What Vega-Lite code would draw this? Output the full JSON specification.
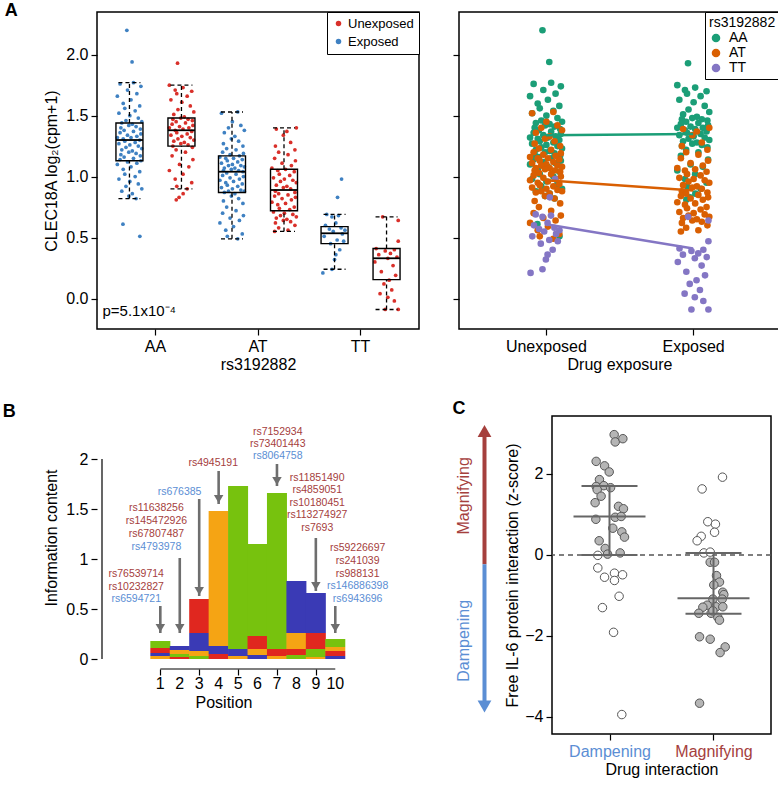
{
"$schema": "https://vega.github.io/schema/vega-lite/v6.json",
"padding": {"left": 2, "top": 0, "right": 0, "bottom": 0},
"config": {
 "font": "Liberation Sans",
 "view": {"stroke": "black", "strokeWidth": 1.5},
 "axis": {"grid": false, "domain": false, "labelOverlap": false, "labelFontSize": 16, "titleFontSize": 16, "titleFontWeight": "normal", "labelColor": "#000", "titleColor": "#000", "tickColor": "#000", "tickSize": 6, "tickWidth": 1.2, "labelPadding": 3, "titlePadding": 4},
 "title": {"fontSize": 18, "fontWeight": "bold", "anchor": "start", "frame": "bounds", "offset": 0, "color": "#000"}
},
"datasets": {
 "pts": [
  {"g":"AA","c":"Exposed","v":2.20,"j":-0.2},{"g":"AA","c":"Exposed","v":1.94,"j":0.2},{"g":"AA","c":"Exposed","v":0.61,"j":-0.5},{"g":"AA","c":"Exposed","v":0.51,"j":0.8},
  {"g":"AA","c":"Exposed","v":1.77,"j":0.31},{"g":"AA","c":"Exposed","v":1.76,"j":-0.72},{"g":"AA","c":"Exposed","v":1.74,"j":0.88},{"g":"AA","c":"Exposed","v":1.71,"j":-0.15},{"g":"AA","c":"Exposed","v":1.68,"j":0.57},{"g":"AA","c":"Exposed","v":1.66,"j":-0.93},{"g":"AA","c":"Exposed","v":1.63,"j":0.12},{"g":"AA","c":"Exposed","v":1.60,"j":-0.48},{"g":"AA","c":"Exposed","v":1.58,"j":0.79},{"g":"AA","c":"Exposed","v":1.56,"j":-0.36},{"g":"AA","c":"Exposed","v":1.54,"j":0.44},{"g":"AA","c":"Exposed","v":1.52,"j":-0.81},{"g":"AA","c":"Exposed","v":1.50,"j":0.03},{"g":"AA","c":"Exposed","v":1.48,"j":0.68},{"g":"AA","c":"Exposed","v":1.46,"j":-0.27},{"g":"AA","c":"Exposed","v":1.45,"j":0.95},
  {"g":"AA","c":"Exposed","v":1.44,"j":-0.59},{"g":"AA","c":"Exposed","v":1.43,"j":0.22},{"g":"AA","c":"Exposed","v":1.42,"j":-0.05},{"g":"AA","c":"Exposed","v":1.41,"j":0.51},{"g":"AA","c":"Exposed","v":1.40,"j":-0.66},{"g":"AA","c":"Exposed","v":1.39,"j":0.84},{"g":"AA","c":"Exposed","v":1.38,"j":-0.41},{"g":"AA","c":"Exposed","v":1.37,"j":0.31},{"g":"AA","c":"Exposed","v":1.36,"j":-0.72},{"g":"AA","c":"Exposed","v":1.35,"j":0.88},{"g":"AA","c":"Exposed","v":1.34,"j":-0.15},{"g":"AA","c":"Exposed","v":1.33,"j":0.57},{"g":"AA","c":"Exposed","v":1.32,"j":-0.93},{"g":"AA","c":"Exposed","v":1.32,"j":0.12},{"g":"AA","c":"Exposed","v":1.31,"j":-0.48},{"g":"AA","c":"Exposed","v":1.30,"j":0.79},
  {"g":"AA","c":"Exposed","v":1.29,"j":-0.36},{"g":"AA","c":"Exposed","v":1.28,"j":0.44},{"g":"AA","c":"Exposed","v":1.27,"j":-0.81},{"g":"AA","c":"Exposed","v":1.26,"j":0.03},{"g":"AA","c":"Exposed","v":1.25,"j":0.68},{"g":"AA","c":"Exposed","v":1.24,"j":-0.27},{"g":"AA","c":"Exposed","v":1.23,"j":0.95},{"g":"AA","c":"Exposed","v":1.22,"j":-0.59},{"g":"AA","c":"Exposed","v":1.21,"j":0.22},{"g":"AA","c":"Exposed","v":1.20,"j":-0.05},{"g":"AA","c":"Exposed","v":1.19,"j":0.51},{"g":"AA","c":"Exposed","v":1.18,"j":-0.66},{"g":"AA","c":"Exposed","v":1.17,"j":0.84},{"g":"AA","c":"Exposed","v":1.16,"j":-0.41},{"g":"AA","c":"Exposed","v":1.15,"j":0.31},{"g":"AA","c":"Exposed","v":1.14,"j":-0.72},{"g":"AA","c":"Exposed","v":1.13,"j":0.88},
  {"g":"AA","c":"Exposed","v":1.12,"j":-0.15},{"g":"AA","c":"Exposed","v":1.11,"j":0.57},{"g":"AA","c":"Exposed","v":1.10,"j":-0.93},{"g":"AA","c":"Exposed","v":1.08,"j":0.12},{"g":"AA","c":"Exposed","v":1.06,"j":-0.48},{"g":"AA","c":"Exposed","v":1.04,"j":0.79},{"g":"AA","c":"Exposed","v":1.02,"j":-0.36},{"g":"AA","c":"Exposed","v":1.00,"j":0.44},{"g":"AA","c":"Exposed","v":0.98,"j":-0.81},{"g":"AA","c":"Exposed","v":0.96,"j":0.03},{"g":"AA","c":"Exposed","v":0.94,"j":0.68},{"g":"AA","c":"Exposed","v":0.92,"j":-0.27},{"g":"AA","c":"Exposed","v":0.90,"j":0.95},{"g":"AA","c":"Exposed","v":0.88,"j":-0.59},{"g":"AA","c":"Exposed","v":0.86,"j":0.22},{"g":"AA","c":"Exposed","v":0.84,"j":-0.05},{"g":"AA","c":"Exposed","v":0.82,"j":0.51},
  {"g":"AA","c":"Unexposed","v":1.93,"j":-0.3},{"g":"AA","c":"Unexposed","v":0.86,"j":0.13},{"g":"AA","c":"Unexposed","v":0.83,"j":-0.18},{"g":"AA","c":"Unexposed","v":0.81,"j":-0.4},
  {"g":"AA","c":"Unexposed","v":1.75,"j":-0.93},{"g":"AA","c":"Unexposed","v":1.73,"j":0.12},{"g":"AA","c":"Unexposed","v":1.71,"j":-0.48},{"g":"AA","c":"Unexposed","v":1.70,"j":0.79},{"g":"AA","c":"Unexposed","v":1.68,"j":-0.36},{"g":"AA","c":"Unexposed","v":1.66,"j":0.44},{"g":"AA","c":"Unexposed","v":1.63,"j":-0.81},{"g":"AA","c":"Unexposed","v":1.61,"j":0.03},{"g":"AA","c":"Unexposed","v":1.58,"j":0.68},{"g":"AA","c":"Unexposed","v":1.55,"j":-0.27},{"g":"AA","c":"Unexposed","v":1.53,"j":0.95},{"g":"AA","c":"Unexposed","v":1.51,"j":-0.59},{"g":"AA","c":"Unexposed","v":1.49,"j":0.22},
  {"g":"AA","c":"Unexposed","v":1.48,"j":-0.05},{"g":"AA","c":"Unexposed","v":1.47,"j":0.51},{"g":"AA","c":"Unexposed","v":1.47,"j":-0.66},{"g":"AA","c":"Unexposed","v":1.46,"j":0.84},{"g":"AA","c":"Unexposed","v":1.45,"j":-0.41},{"g":"AA","c":"Unexposed","v":1.44,"j":0.31},{"g":"AA","c":"Unexposed","v":1.43,"j":-0.72},{"g":"AA","c":"Unexposed","v":1.42,"j":0.88},{"g":"AA","c":"Unexposed","v":1.41,"j":-0.15},{"g":"AA","c":"Unexposed","v":1.40,"j":0.57},{"g":"AA","c":"Unexposed","v":1.40,"j":-0.93},{"g":"AA","c":"Unexposed","v":1.39,"j":0.12},{"g":"AA","c":"Unexposed","v":1.38,"j":-0.48},
  {"g":"AA","c":"Unexposed","v":1.37,"j":0.79},{"g":"AA","c":"Unexposed","v":1.36,"j":-0.36},{"g":"AA","c":"Unexposed","v":1.35,"j":0.44},{"g":"AA","c":"Unexposed","v":1.34,"j":-0.81},{"g":"AA","c":"Unexposed","v":1.33,"j":0.03},{"g":"AA","c":"Unexposed","v":1.32,"j":0.68},{"g":"AA","c":"Unexposed","v":1.31,"j":-0.27},{"g":"AA","c":"Unexposed","v":1.30,"j":0.95},{"g":"AA","c":"Unexposed","v":1.29,"j":-0.59},{"g":"AA","c":"Unexposed","v":1.28,"j":0.22},{"g":"AA","c":"Unexposed","v":1.27,"j":-0.05},{"g":"AA","c":"Unexposed","v":1.26,"j":0.51},{"g":"AA","c":"Unexposed","v":1.25,"j":-0.66},
  {"g":"AA","c":"Unexposed","v":1.24,"j":0.84},{"g":"AA","c":"Unexposed","v":1.22,"j":-0.41},{"g":"AA","c":"Unexposed","v":1.20,"j":0.31},{"g":"AA","c":"Unexposed","v":1.17,"j":-0.72},{"g":"AA","c":"Unexposed","v":1.14,"j":0.88},{"g":"AA","c":"Unexposed","v":1.10,"j":-0.15},{"g":"AA","c":"Unexposed","v":1.08,"j":0.57},{"g":"AA","c":"Unexposed","v":1.05,"j":-0.93},{"g":"AA","c":"Unexposed","v":1.02,"j":0.12},{"g":"AA","c":"Unexposed","v":0.98,"j":-0.48},{"g":"AA","c":"Unexposed","v":0.95,"j":0.79},{"g":"AA","c":"Unexposed","v":0.92,"j":-0.36},{"g":"AA","c":"Unexposed","v":0.90,"j":0.44},
  {"g":"AT","c":"Exposed","v":1.53,"j":0.44},{"g":"AT","c":"Exposed","v":1.52,"j":-0.81},{"g":"AT","c":"Exposed","v":1.45,"j":0.03},{"g":"AT","c":"Exposed","v":1.42,"j":0.68},{"g":"AT","c":"Exposed","v":1.40,"j":-0.27},{"g":"AT","c":"Exposed","v":1.38,"j":0.95},{"g":"AT","c":"Exposed","v":1.36,"j":-0.59},{"g":"AT","c":"Exposed","v":1.33,"j":0.22},{"g":"AT","c":"Exposed","v":1.31,"j":-0.05},{"g":"AT","c":"Exposed","v":1.29,"j":0.51},{"g":"AT","c":"Exposed","v":1.27,"j":-0.66},{"g":"AT","c":"Exposed","v":1.25,"j":0.84},{"g":"AT","c":"Exposed","v":1.23,"j":-0.41},{"g":"AT","c":"Exposed","v":1.22,"j":0.31},{"g":"AT","c":"Exposed","v":1.20,"j":-0.72},{"g":"AT","c":"Exposed","v":1.19,"j":0.88},{"g":"AT","c":"Exposed","v":1.18,"j":-0.15},
  {"g":"AT","c":"Exposed","v":1.17,"j":0.57},{"g":"AT","c":"Exposed","v":1.16,"j":-0.93},{"g":"AT","c":"Exposed","v":1.15,"j":0.12},{"g":"AT","c":"Exposed","v":1.15,"j":-0.48},{"g":"AT","c":"Exposed","v":1.14,"j":0.79},{"g":"AT","c":"Exposed","v":1.13,"j":-0.36},{"g":"AT","c":"Exposed","v":1.12,"j":0.44},{"g":"AT","c":"Exposed","v":1.11,"j":-0.81},{"g":"AT","c":"Exposed","v":1.10,"j":0.03},{"g":"AT","c":"Exposed","v":1.09,"j":0.68},{"g":"AT","c":"Exposed","v":1.09,"j":-0.27},{"g":"AT","c":"Exposed","v":1.08,"j":0.95},{"g":"AT","c":"Exposed","v":1.07,"j":-0.59},{"g":"AT","c":"Exposed","v":1.07,"j":0.22},{"g":"AT","c":"Exposed","v":1.06,"j":-0.05},{"g":"AT","c":"Exposed","v":1.05,"j":0.51},{"g":"AT","c":"Exposed","v":1.05,"j":-0.66},{"g":"AT","c":"Exposed","v":1.04,"j":0.84},
  {"g":"AT","c":"Exposed","v":1.03,"j":-0.41},{"g":"AT","c":"Exposed","v":1.02,"j":0.31},{"g":"AT","c":"Exposed","v":1.01,"j":-0.72},{"g":"AT","c":"Exposed","v":1.00,"j":0.88},{"g":"AT","c":"Exposed","v":0.99,"j":-0.15},{"g":"AT","c":"Exposed","v":0.98,"j":0.57},{"g":"AT","c":"Exposed","v":0.97,"j":-0.93},{"g":"AT","c":"Exposed","v":0.96,"j":0.12},{"g":"AT","c":"Exposed","v":0.95,"j":-0.48},{"g":"AT","c":"Exposed","v":0.94,"j":0.79},{"g":"AT","c":"Exposed","v":0.93,"j":-0.36},{"g":"AT","c":"Exposed","v":0.92,"j":0.44},{"g":"AT","c":"Exposed","v":0.91,"j":-0.81},{"g":"AT","c":"Exposed","v":0.90,"j":0.03},{"g":"AT","c":"Exposed","v":0.89,"j":0.68},{"g":"AT","c":"Exposed","v":0.88,"j":-0.27},{"g":"AT","c":"Exposed","v":0.88,"j":0.95},{"g":"AT","c":"Exposed","v":0.87,"j":-0.59},
  {"g":"AT","c":"Exposed","v":0.86,"j":0.22},{"g":"AT","c":"Exposed","v":0.84,"j":-0.05},{"g":"AT","c":"Exposed","v":0.82,"j":0.51},{"g":"AT","c":"Exposed","v":0.80,"j":-0.66},{"g":"AT","c":"Exposed","v":0.78,"j":0.84},{"g":"AT","c":"Exposed","v":0.75,"j":-0.41},{"g":"AT","c":"Exposed","v":0.72,"j":0.31},{"g":"AT","c":"Exposed","v":0.70,"j":-0.72},{"g":"AT","c":"Exposed","v":0.68,"j":0.88},{"g":"AT","c":"Exposed","v":0.66,"j":-0.15},{"g":"AT","c":"Exposed","v":0.64,"j":0.57},{"g":"AT","c":"Exposed","v":0.62,"j":-0.93},{"g":"AT","c":"Exposed","v":0.59,"j":0.12},{"g":"AT","c":"Exposed","v":0.56,"j":-0.48},{"g":"AT","c":"Exposed","v":0.53,"j":0.79},{"g":"AT","c":"Exposed","v":0.51,"j":-0.36},{"g":"AT","c":"Exposed","v":0.49,"j":0.44},
  {"g":"AT","c":"Unexposed","v":1.40,"j":0.95},{"g":"AT","c":"Unexposed","v":1.39,"j":-0.59},{"g":"AT","c":"Unexposed","v":1.37,"j":0.22},{"g":"AT","c":"Unexposed","v":1.34,"j":-0.05},{"g":"AT","c":"Unexposed","v":1.28,"j":0.51},{"g":"AT","c":"Unexposed","v":1.25,"j":-0.66},{"g":"AT","c":"Unexposed","v":1.22,"j":0.84},{"g":"AT","c":"Unexposed","v":1.20,"j":-0.41},{"g":"AT","c":"Unexposed","v":1.18,"j":0.31},{"g":"AT","c":"Unexposed","v":1.15,"j":-0.72},{"g":"AT","c":"Unexposed","v":1.13,"j":0.88},{"g":"AT","c":"Unexposed","v":1.11,"j":-0.15},{"g":"AT","c":"Unexposed","v":1.09,"j":0.57},{"g":"AT","c":"Unexposed","v":1.07,"j":-0.93},
  {"g":"AT","c":"Unexposed","v":1.06,"j":0.12},{"g":"AT","c":"Unexposed","v":1.05,"j":-0.48},{"g":"AT","c":"Unexposed","v":1.04,"j":0.79},{"g":"AT","c":"Unexposed","v":1.02,"j":-0.36},{"g":"AT","c":"Unexposed","v":1.01,"j":0.44},{"g":"AT","c":"Unexposed","v":0.99,"j":-0.81},{"g":"AT","c":"Unexposed","v":0.98,"j":0.03},{"g":"AT","c":"Unexposed","v":0.97,"j":0.68},{"g":"AT","c":"Unexposed","v":0.96,"j":-0.27},{"g":"AT","c":"Unexposed","v":0.95,"j":0.95},{"g":"AT","c":"Unexposed","v":0.93,"j":-0.59},{"g":"AT","c":"Unexposed","v":0.92,"j":0.22},{"g":"AT","c":"Unexposed","v":0.91,"j":-0.05},{"g":"AT","c":"Unexposed","v":0.90,"j":0.51},
  {"g":"AT","c":"Unexposed","v":0.88,"j":-0.66},{"g":"AT","c":"Unexposed","v":0.87,"j":0.84},{"g":"AT","c":"Unexposed","v":0.86,"j":-0.41},{"g":"AT","c":"Unexposed","v":0.85,"j":0.31},{"g":"AT","c":"Unexposed","v":0.84,"j":-0.72},{"g":"AT","c":"Unexposed","v":0.83,"j":0.88},{"g":"AT","c":"Unexposed","v":0.82,"j":-0.15},{"g":"AT","c":"Unexposed","v":0.81,"j":0.57},{"g":"AT","c":"Unexposed","v":0.79,"j":-0.93},{"g":"AT","c":"Unexposed","v":0.78,"j":0.12},{"g":"AT","c":"Unexposed","v":0.77,"j":-0.48},{"g":"AT","c":"Unexposed","v":0.75,"j":0.79},{"g":"AT","c":"Unexposed","v":0.74,"j":-0.36},{"g":"AT","c":"Unexposed","v":0.73,"j":0.44},
  {"g":"AT","c":"Unexposed","v":0.71,"j":-0.81},{"g":"AT","c":"Unexposed","v":0.70,"j":0.03},{"g":"AT","c":"Unexposed","v":0.69,"j":0.68},{"g":"AT","c":"Unexposed","v":0.68,"j":-0.27},{"g":"AT","c":"Unexposed","v":0.67,"j":0.95},{"g":"AT","c":"Unexposed","v":0.66,"j":-0.59},{"g":"AT","c":"Unexposed","v":0.65,"j":0.22},{"g":"AT","c":"Unexposed","v":0.64,"j":-0.05},{"g":"AT","c":"Unexposed","v":0.63,"j":0.51},{"g":"AT","c":"Unexposed","v":0.62,"j":-0.66},{"g":"AT","c":"Unexposed","v":0.60,"j":0.84},{"g":"AT","c":"Unexposed","v":0.58,"j":-0.41},{"g":"AT","c":"Unexposed","v":0.56,"j":0.31},{"g":"AT","c":"Unexposed","v":0.55,"j":-0.72},
  {"g":"TT","c":"Exposed","v":0.98,"j":0.54},{"g":"TT","c":"Exposed","v":0.83,"j":0.23},{"g":"TT","c":"Exposed","v":0.69,"j":-0.6},{"g":"TT","c":"Exposed","v":0.68,"j":0.3},{"g":"TT","c":"Exposed","v":0.67,"j":-0.2},{"g":"TT","c":"Exposed","v":0.62,"j":0.1},{"g":"TT","c":"Exposed","v":0.60,"j":-0.7},{"g":"TT","c":"Exposed","v":0.58,"j":0.5},{"g":"TT","c":"Exposed","v":0.57,"j":-0.4},{"g":"TT","c":"Exposed","v":0.56,"j":0.8},{"g":"TT","c":"Exposed","v":0.55,"j":-0.1},{"g":"TT","c":"Exposed","v":0.53,"j":0.6},{"g":"TT","c":"Exposed","v":0.51,"j":-0.8},{"g":"TT","c":"Exposed","v":0.48,"j":0.2},{"g":"TT","c":"Exposed","v":0.47,"j":0.7},{"g":"TT","c":"Exposed","v":0.45,"j":-0.3},{"g":"TT","c":"Exposed","v":0.40,"j":0.4},{"g":"TT","c":"Exposed","v":0.36,"j":0.1},{"g":"TT","c":"Exposed","v":0.32,"j":0.0},{"g":"TT","c":"Exposed","v":0.24,"j":-0.2},{"g":"TT","c":"Exposed","v":0.21,"j":-0.9},
  {"g":"TT","c":"Unexposed","v":0.67,"j":-0.3},{"g":"TT","c":"Unexposed","v":0.64,"j":0.9},{"g":"TT","c":"Unexposed","v":0.47,"j":0.9},{"g":"TT","c":"Unexposed","v":0.41,"j":-0.8},{"g":"TT","c":"Unexposed","v":0.40,"j":0.6},{"g":"TT","c":"Unexposed","v":0.39,"j":-0.1},{"g":"TT","c":"Unexposed","v":0.37,"j":0.3},{"g":"TT","c":"Unexposed","v":0.36,"j":-0.6},{"g":"TT","c":"Unexposed","v":0.34,"j":0.8},{"g":"TT","c":"Unexposed","v":0.33,"j":0.1},{"g":"TT","c":"Unexposed","v":0.30,"j":-0.9},{"g":"TT","c":"Unexposed","v":0.27,"j":0.5},{"g":"TT","c":"Unexposed","v":0.22,"j":-0.4},{"g":"TT","c":"Unexposed","v":0.19,"j":0.7},{"g":"TT","c":"Unexposed","v":0.15,"j":0.2},{"g":"TT","c":"Unexposed","v":0.12,"j":-0.2},{"g":"TT","c":"Unexposed","v":0.07,"j":0.4},{"g":"TT","c":"Unexposed","v":0.04,"j":-0.5},{"g":"TT","c":"Unexposed","v":0.01,"j":0.1},{"g":"TT","c":"Unexposed","v":-0.02,"j":0.6},{"g":"TT","c":"Unexposed","v":-0.09,"j":0.9},{"g":"TT","c":"Unexposed","v":-0.09,"j":-0.1}
 ],
 "box": [
  {"g":"AA","c":"Exposed","lo":0.82,"q1":1.13,"med":1.30,"q3":1.44,"hi":1.77},
  {"g":"AA","c":"Unexposed","lo":0.90,"q1":1.25,"med":1.38,"q3":1.48,"hi":1.75},
  {"g":"AT","c":"Exposed","lo":0.49,"q1":0.87,"med":1.04,"q3":1.17,"hi":1.53},
  {"g":"AT","c":"Unexposed","lo":0.55,"q1":0.72,"med":0.89,"q3":1.06,"hi":1.40},
  {"g":"TT","c":"Exposed","lo":0.24,"q1":0.45,"med":0.535,"q3":0.59,"hi":0.69},
  {"g":"TT","c":"Unexposed","lo":-0.09,"q1":0.155,"med":0.33,"q3":0.41,"hi":0.67}
 ],
 "means": [
  {"g":"AA","c":"Exposed","m":1.34},{"g":"AA","c":"Unexposed","m":1.35},
  {"g":"AT","c":"Exposed","m":0.97},{"g":"AT","c":"Unexposed","m":0.885},
  {"g":"TT","c":"Exposed","m":0.61},{"g":"TT","c":"Unexposed","m":0.41}
 ],
 "logo": [
  {"pos":1,"l":"G","y0":0,"y1":0.03},{"pos":1,"l":"C","y0":0.03,"y1":0.06},{"pos":1,"l":"T","y0":0.06,"y1":0.11},{"pos":1,"l":"A","y0":0.11,"y1":0.18},
  {"pos":2,"l":"T","y0":0,"y1":0.02},{"pos":2,"l":"A","y0":0.02,"y1":0.05},{"pos":2,"l":"G","y0":0.05,"y1":0.09},{"pos":2,"l":"C","y0":0.09,"y1":0.13},
  {"pos":3,"l":"A","y0":0,"y1":0.03},{"pos":3,"l":"G","y0":0.03,"y1":0.08},{"pos":3,"l":"C","y0":0.08,"y1":0.26},{"pos":3,"l":"T","y0":0.26,"y1":0.60},
  {"pos":4,"l":"T","y0":0,"y1":0.05},{"pos":4,"l":"C","y0":0.05,"y1":0.13},{"pos":4,"l":"G","y0":0.13,"y1":1.48},
  {"pos":5,"l":"G","y0":0,"y1":0.03},{"pos":5,"l":"C","y0":0.03,"y1":0.10},{"pos":5,"l":"A","y0":0.10,"y1":1.73},
  {"pos":6,"l":"C","y0":0,"y1":0.04},{"pos":6,"l":"G","y0":0.04,"y1":0.10},{"pos":6,"l":"T","y0":0.10,"y1":0.23},{"pos":6,"l":"A","y0":0.23,"y1":1.15},
  {"pos":7,"l":"G","y0":0,"y1":0.03},{"pos":7,"l":"T","y0":0.03,"y1":0.10},{"pos":7,"l":"A","y0":0.10,"y1":1.66},
  {"pos":8,"l":"A","y0":0,"y1":0.04},{"pos":8,"l":"T","y0":0.04,"y1":0.10},{"pos":8,"l":"G","y0":0.10,"y1":0.26},{"pos":8,"l":"C","y0":0.26,"y1":0.78},
  {"pos":9,"l":"G","y0":0,"y1":0.02},{"pos":9,"l":"A","y0":0.02,"y1":0.10},{"pos":9,"l":"T","y0":0.10,"y1":0.26},{"pos":9,"l":"C","y0":0.26,"y1":0.66},
  {"pos":10,"l":"C","y0":0,"y1":0.03},{"pos":10,"l":"T","y0":0.03,"y1":0.08},{"pos":10,"l":"G","y0":0.08,"y1":0.12},{"pos":10,"l":"A","y0":0.12,"y1":0.20}
 ],
 "positions": [{"pos":1},{"pos":2},{"pos":3},{"pos":4},{"pos":5},{"pos":6},{"pos":7},{"pos":8},{"pos":9},{"pos":10}],
 "arrowsB": [
  {"pos":1,"top":0.53,"tip":0.26},{"pos":2,"top":1.01,"tip":0.26},{"pos":3,"top":1.60,"tip":0.63},{"pos":4,"top":1.88,"tip":1.55},
  {"pos":7,"top":1.95,"tip":1.73},{"pos":9,"top":1.21,"tip":0.68},{"pos":10,"top":0.53,"tip":0.26}
 ],
 "labsB": [
  {"x":-0.24,"y":0.85,"t":"rs76539714","eff":"Magnifying"},{"x":-0.24,"y":0.72,"t":"rs10232827","eff":"Magnifying"},{"x":-0.24,"y":0.60,"t":"rs6594721","eff":"Dampening"},
  {"x":0.8,"y":1.51,"t":"rs11638256","eff":"Magnifying"},{"x":0.8,"y":1.38,"t":"rs145472926","eff":"Magnifying"},{"x":0.8,"y":1.25,"t":"rs67807487","eff":"Magnifying"},{"x":0.8,"y":1.12,"t":"rs4793978","eff":"Dampening"},
  {"x":1.99,"y":1.67,"t":"rs676385","eff":"Dampening"},
  {"x":3.72,"y":1.96,"t":"rs4945191","eff":"Magnifying"},
  {"x":7.04,"y":2.27,"t":"rs7152934","eff":"Magnifying"},{"x":7.04,"y":2.15,"t":"rs73401443","eff":"Magnifying"},{"x":7.04,"y":2.03,"t":"rs8064758","eff":"Dampening"},
  {"x":9.07,"y":1.81,"t":"rs11851490","eff":"Magnifying"},{"x":9.07,"y":1.69,"t":"rs4859051","eff":"Magnifying"},{"x":9.07,"y":1.56,"t":"rs10180451","eff":"Magnifying"},{"x":9.07,"y":1.44,"t":"rs113274927","eff":"Magnifying"},{"x":9.07,"y":1.31,"t":"rs7693","eff":"Magnifying"},
  {"x":11.15,"y":1.11,"t":"rs59226697","eff":"Magnifying"},{"x":11.15,"y":0.98,"t":"rs241039","eff":"Magnifying"},{"x":11.15,"y":0.85,"t":"rs988131","eff":"Magnifying"},{"x":11.15,"y":0.73,"t":"rs146886398","eff":"Dampening"},{"x":11.15,"y":0.60,"t":"rs6943696","eff":"Dampening"}
 ],
 "carrow": [
  {"dir":"Magnifying","from":-0.23,"to":3.0,"head":3.06,"ty":1.46},
  {"dir":"Dampening","from":-0.23,"to":-3.68,"head":-3.74,"ty":-2.12}
 ],
 "cpts": [
  {"grp":"Dampening","z":2.97,"j":0.31,"f":"filled"},{"grp":"Dampening","z":2.79,"j":0.38,"f":"filled"},{"grp":"Dampening","z":2.87,"j":0.89,"f":"filled"},{"grp":"Dampening","z":2.31,"j":-0.89,"f":"filled"},{"grp":"Dampening","z":2.20,"j":-0.33,"f":"filled"},{"grp":"Dampening","z":2.05,"j":-0.02,"f":"filled"},{"grp":"Dampening","z":1.86,"j":-0.67,"f":"filled"},{"grp":"Dampening","z":1.69,"j":-0.89,"f":"filled"},{"grp":"Dampening","z":1.71,"j":-0.38,"f":"filled"},{"grp":"Dampening","z":1.66,"j":0.07,"f":"filled"},{"grp":"Dampening","z":1.61,"j":-0.82,"f":"filled"},{"grp":"Dampening","z":1.45,"j":-0.56,"f":"filled"},{"grp":"Dampening","z":1.29,"j":-0.96,"f":"filled"},{"grp":"Dampening","z":1.20,"j":0.6,"f":"filled"},{"grp":"Dampening","z":1.14,"j":0.93,"f":"filled"},{"grp":"Dampening","z":0.88,"j":-0.91,"f":"filled"},{"grp":"Dampening","z":0.93,"j":0.38,"f":"filled"},{"grp":"Dampening","z":0.95,"j":0.78,"f":"filled"},{"grp":"Dampening","z":0.66,"j":0.22,"f":"filled"},{"grp":"Dampening","z":0.57,"j":0.82,"f":"filled"},{"grp":"Dampening","z":0.44,"j":1.0,"f":"filled"},{"grp":"Dampening","z":0.35,"j":-0.69,"f":"filled"},{"grp":"Dampening","z":0.16,"j":-0.29,"f":"filled"},{"grp":"Dampening","z":0.02,"j":-0.13,"f":"filled"},{"grp":"Dampening","z":0.05,"j":0.71,"f":"filled"},
  {"grp":"Dampening","z":-0.01,"j":-0.78,"f":"open"},{"grp":"Dampening","z":-0.32,"j":-0.78,"f":"open"},{"grp":"Dampening","z":-0.55,"j":-0.33,"f":"open"},{"grp":"Dampening","z":-0.45,"j":0.33,"f":"open"},{"grp":"Dampening","z":-0.49,"j":0.87,"f":"open"},{"grp":"Dampening","z":-0.63,"j":0.33,"f":"open"},{"grp":"Dampening","z":-1.02,"j":0.64,"f":"open"},{"grp":"Dampening","z":-1.30,"j":-0.47,"f":"open"},{"grp":"Dampening","z":-1.91,"j":0.27,"f":"open"},{"grp":"Dampening","z":-3.94,"j":0.82,"f":"open"},
  {"grp":"Magnifying","z":1.92,"j":0.6,"f":"open"},{"grp":"Magnifying","z":1.63,"j":-0.76,"f":"open"},{"grp":"Magnifying","z":0.82,"j":-0.38,"f":"open"},{"grp":"Magnifying","z":0.76,"j":0.13,"f":"open"},{"grp":"Magnifying","z":0.56,"j":0.07,"f":"open"},{"grp":"Magnifying","z":0.46,"j":-0.82,"f":"open"},{"grp":"Magnifying","z":0.35,"j":-1.09,"f":"open"},{"grp":"Magnifying","z":0.05,"j":-0.64,"f":"open"},{"grp":"Magnifying","z":0.07,"j":-0.22,"f":"open"},
  {"grp":"Magnifying","z":-0.18,"j":-0.22,"f":"filled"},{"grp":"Magnifying","z":-0.18,"j":0.07,"f":"filled"},{"grp":"Magnifying","z":-0.51,"j":0.2,"f":"filled"},{"grp":"Magnifying","z":-0.67,"j":0.4,"f":"filled"},{"grp":"Magnifying","z":-0.74,"j":0.02,"f":"filled"},{"grp":"Magnifying","z":-0.92,"j":0.62,"f":"filled"},{"grp":"Magnifying","z":-0.98,"j":0.69,"f":"filled"},{"grp":"Magnifying","z":-1.09,"j":-0.04,"f":"filled"},{"grp":"Magnifying","z":-1.09,"j":0.58,"f":"filled"},{"grp":"Magnifying","z":-1.24,"j":-0.42,"f":"filled"},{"grp":"Magnifying","z":-1.29,"j":-0.71,"f":"filled"},{"grp":"Magnifying","z":-1.28,"j":0.18,"f":"filled"},{"grp":"Magnifying","z":-1.28,"j":0.62,"f":"filled"},{"grp":"Magnifying","z":-1.44,"j":-0.98,"f":"filled"},{"grp":"Magnifying","z":-1.44,"j":-0.16,"f":"filled"},{"grp":"Magnifying","z":-1.54,"j":0.29,"f":"filled"},{"grp":"Magnifying","z":-1.61,"j":0.4,"f":"filled"},{"grp":"Magnifying","z":-1.38,"j":-0.04,"f":"filled"},{"grp":"Magnifying","z":-2.02,"j":-0.93,"f":"filled"},{"grp":"Magnifying","z":-2.08,"j":-0.22,"f":"filled"},{"grp":"Magnifying","z":-2.27,"j":0.78,"f":"filled"},{"grp":"Magnifying","z":-2.41,"j":0.44,"f":"filled"},{"grp":"Magnifying","z":-3.66,"j":-0.93,"f":"filled"}
 ],
 "cstat": [
  {"grp":"Dampening","q1":0.0,"med":0.95,"q3":1.70},
  {"grp":"Magnifying","q1":-1.45,"med":-1.07,"q3":0.05}
 ]
},
"spacing": 27,
"resolve": {"scale": {"x": "independent", "y": "independent", "color": "independent", "fill": "independent", "shape": "independent"}},
"vconcat": [
 {
  "hconcat": [
   {
    "width": 322, "height": 317,
    "title": {"text": "A", "dx": -39, "dy": 12},
    "layer": [
     {
      "data": {"name": "pts"},
      "transform": [{"filter": "datum.c == 'Exposed'"}],
      "mark": {"type": "circle", "size": 14, "opacity": 1, "xOffset": {"expr": "-26 + datum.j * 13"}},
      "encoding": {
       "x": {"field": "g", "type": "nominal", "scale": {"domain": ["AA", "AT", "TT"], "paddingInner": 0, "paddingOuter": 0.07}, "axis": {"title": "rs3192882", "labelAngle": 0, "bandPosition": 0.5, "titlePadding": 2}},
       "y": {"field": "v", "type": "quantitative", "scale": {"domain": [-0.25, 2.35], "nice": false, "zero": false}, "axis": {"values": [0, 0.5, 1, 1.5, 2], "format": ".1f", "title": "CLEC18A  log₂(cpm+1)", "titlePadding": 6}},
       "color": {"field": "c", "type": "nominal", "scale": {"domain": ["Unexposed", "Exposed"], "range": ["#d9302a", "#3f81c2"]}, "legend": {"title": null, "orient": "top-right", "offset": 0, "strokeColor": "black", "fillColor": "white", "padding": 5, "labelFontSize": 13, "symbolSize": 30, "symbolType": "circle", "rowPadding": 4, "labelOffset": 3}}
      }
     },
     {
      "data": {"name": "pts"},
      "transform": [{"filter": "datum.c == 'Unexposed'"}],
      "mark": {"type": "circle", "size": 14, "opacity": 1, "xOffset": {"expr": "26 + datum.j * 13"}},
      "encoding": {
       "x": {"field": "g", "type": "nominal"},
       "y": {"field": "v", "type": "quantitative"},
       "color": {"field": "c", "type": "nominal"}
      }
     },
     {
      "data": {"name": "box"},
      "mark": {"type": "bar", "width": 27, "fill": null, "fillOpacity": 0, "stroke": "black", "strokeWidth": 1.4, "xOffset": {"expr": "datum.c == 'Exposed' ? -26 : 26"}},
      "encoding": {"x": {"field": "g", "type": "nominal"}, "y": {"field": "q1", "type": "quantitative"}, "y2": {"field": "q3"}}
     },
     {
      "data": {"name": "box"},
      "mark": {"type": "rule", "color": "black", "strokeWidth": 1.3, "strokeDash": [4, 3], "xOffset": {"expr": "datum.c == 'Exposed' ? -26 : 26"}},
      "encoding": {"x": {"field": "g", "type": "nominal", "bandPosition": 0.5}, "y": {"field": "q3", "type": "quantitative"}, "y2": {"field": "hi"}}
     },
     {
      "data": {"name": "box"},
      "mark": {"type": "rule", "color": "black", "strokeWidth": 1.3, "strokeDash": [4, 3], "xOffset": {"expr": "datum.c == 'Exposed' ? -26 : 26"}},
      "encoding": {"x": {"field": "g", "type": "nominal", "bandPosition": 0.5}, "y": {"field": "lo", "type": "quantitative"}, "y2": {"field": "q1"}}
     },
     {
      "data": {"name": "box"},
      "mark": {"type": "rule", "color": "black", "strokeWidth": 1.3, "strokeDash": [4, 3], "xOffset": {"expr": "datum.c == 'Exposed' ? -37 : 15"}, "x2Offset": {"expr": "datum.c == 'Exposed' ? -15 : 37"}},
      "encoding": {"x": {"field": "g", "type": "nominal", "bandPosition": 0.5}, "x2": {"field": "g", "bandPosition": 0.5}, "y": {"field": "hi", "type": "quantitative"}}
     },
     {
      "data": {"name": "box"},
      "mark": {"type": "rule", "color": "black", "strokeWidth": 1.3, "strokeDash": [4, 3], "xOffset": {"expr": "datum.c == 'Exposed' ? -37 : 15"}, "x2Offset": {"expr": "datum.c == 'Exposed' ? -15 : 37"}},
      "encoding": {"x": {"field": "g", "type": "nominal", "bandPosition": 0.5}, "x2": {"field": "g", "bandPosition": 0.5}, "y": {"field": "lo", "type": "quantitative"}}
     },
     {
      "data": {"name": "box"},
      "mark": {"type": "rule", "color": "black", "strokeWidth": 1.8, "xOffset": {"expr": "datum.c == 'Exposed' ? -39.5 : 12.5"}, "x2Offset": {"expr": "datum.c == 'Exposed' ? -12.5 : 39.5"}},
      "encoding": {"x": {"field": "g", "type": "nominal", "bandPosition": 0.5}, "x2": {"field": "g", "bandPosition": 0.5}, "y": {"field": "med", "type": "quantitative"}}
     },
     {
      "data": {"values": [{"lab": "p=5.1x10⁻⁴"}]},
      "mark": {"type": "text", "align": "left", "baseline": "middle", "fontSize": 15, "xOffset": -53},
      "encoding": {"x": {"datum": "AA"}, "y": {"datum": -0.1}, "text": {"field": "lab"}}
     }
    ]
   },
   {
    "width": 321, "height": 317,
    "layer": [
     {
      "data": {"name": "pts"},
      "mark": {"type": "circle", "size": 44, "opacity": 1, "xOffset": {"expr": "datum.j * 17"}},
      "encoding": {
       "x": {"field": "c", "type": "nominal", "scale": {"type": "point", "domain": ["Exposed", "Unexposed"], "padding": 0.59}, "axis": {"title": "Drug exposure", "labelAngle": 0, "labelExpr": "datum.value == 'Exposed' ? 'Unexposed' : 'Exposed'", "titlePadding": 2}},
       "y": {"field": "v", "type": "quantitative", "scale": {"domain": [-0.25, 2.35], "nice": false, "zero": false}, "axis": {"values": [0, 0.5, 1, 1.5, 2], "labels": false, "title": null}},
       "color": {"field": "g", "type": "nominal", "scale": {"domain": ["AA", "AT", "TT"], "range": ["#1b9e77", "#d95f02", "#8476c4"]}, "legend": {"title": "rs3192882", "orient": "top-right", "offset": 0, "strokeColor": "black", "fillColor": "white", "padding": 4, "titleFontSize": 14, "titleFontWeight": "normal", "titlePadding": 1, "labelFontSize": 14, "symbolSize": 50, "symbolType": "circle", "rowPadding": 1, "labelOffset": 6}}
      }
     },
     {
      "data": {"name": "means"},
      "mark": {"type": "line", "strokeWidth": 2.5},
      "encoding": {"x": {"field": "c", "type": "nominal"}, "y": {"field": "m", "type": "quantitative"}, "color": {"field": "g", "type": "nominal"}}
     }
    ]
   }
  ],
  "spacing": 30,
  "resolve": {"scale": {"x": "independent", "y": "independent", "color": "independent"}}
 },
 {
  "hconcat": [
   {
    "width": 253, "height": 243,
    "view": {"stroke": null},
    "title": {"text": "B", "dx": -41, "dy": 9},
    "resolve": {"scale": {"color": "independent"}},
    "layer": [
     {
      "data": {"name": "logo"},
      "mark": {"type": "bar", "width": 20},
      "encoding": {
       "x": {"field": "pos", "type": "quantitative", "scale": {"domain": [-2, 10.5], "nice": false, "zero": false}, "axis": {"values": [1, 2, 3, 4, 5, 6, 7, 8, 9, 10], "labels": false, "offset": 10, "title": "Position", "titlePadding": 19}},
       "y": {"field": "y0", "type": "quantitative", "scale": {"domain": [0, 2.43], "nice": false, "zero": false}, "axis": {"values": [0, 0.5, 1, 1.5, 2], "format": "~g", "title": "Information content", "titlePadding": 6}},
       "y2": {"field": "y1"},
       "color": {"field": "l", "type": "nominal", "scale": {"domain": ["A", "C", "G", "T"], "range": ["#77c20e", "#3a3ab5", "#f5a414", "#e0271f"]}, "legend": null}
      }
     },
     {
      "data": {"name": "positions"},
      "mark": {"type": "text", "fontSize": 16, "baseline": "middle", "align": "center", "color": "#000"},
      "encoding": {"x": {"field": "pos", "type": "quantitative"}, "y": {"datum": -0.25}, "text": {"field": "pos", "type": "quantitative"}}
     },
     {
      "data": {"values": [{}]},
      "mark": {"type": "rule", "color": "black", "strokeWidth": 1.2},
      "encoding": {"x": {"datum": -2}, "y": {"datum": 0}, "y2": {"datum": 2}}
     },
     {
      "data": {"values": [{}]},
      "mark": {"type": "rule", "color": "black", "strokeWidth": 1.2},
      "encoding": {"x": {"datum": 1}, "x2": {"datum": 10}, "y": {"datum": -0.1}}
     },
     {
      "data": {"name": "arrowsB"},
      "mark": {"type": "rule", "color": "#6e6e6e", "strokeWidth": 2.6},
      "encoding": {"x": {"field": "pos", "type": "quantitative"}, "y": {"field": "top", "type": "quantitative"}, "y2": {"field": "tip"}}
     },
     {
      "data": {"name": "arrowsB"},
      "mark": {"type": "point", "shape": "triangle-down", "filled": true, "size": 90, "color": "#6e6e6e", "opacity": 1, "yOffset": -5},
      "encoding": {"x": {"field": "pos", "type": "quantitative"}, "y": {"field": "tip", "type": "quantitative"}}
     },
     {
      "data": {"name": "labsB"},
      "mark": {"type": "text", "fontSize": 10.5, "baseline": "middle", "align": "center"},
      "encoding": {
       "x": {"field": "x", "type": "quantitative"},
       "y": {"field": "y", "type": "quantitative"},
       "text": {"field": "t"},
       "color": {"field": "eff", "type": "nominal", "scale": {"domain": ["Magnifying", "Dampening"], "range": ["#a5403d", "#5b8ed4"]}, "legend": null}
      }
     }
    ]
   },
   {
    "hconcat": [
     {
      "width": 30, "height": 318,
      "view": {"stroke": null},
      "data": {"name": "carrow"},
      "layer": [
       {
        "mark": {"type": "rule", "strokeWidth": 4},
        "encoding": {
         "x": {"datum": 0.95, "scale": {"domain": [0, 1]}, "axis": null},
         "y": {"field": "from", "type": "quantitative", "scale": {"domain": [-4.42, 3.43], "nice": false, "zero": false}, "axis": null},
         "y2": {"field": "to"},
         "color": {"field": "dir", "type": "nominal", "scale": {"domain": ["Magnifying", "Dampening"], "range": ["#a5403d", "#5b8ed4"]}, "legend": null}
        }
       },
       {
        "mark": {"type": "point", "filled": true, "size": 190, "opacity": 1},
        "encoding": {
         "x": {"datum": 0.95},
         "y": {"field": "head", "type": "quantitative"},
         "shape": {"field": "dir", "type": "nominal", "scale": {"domain": ["Magnifying", "Dampening"], "range": ["triangle-up", "triangle-down"]}, "legend": null},
         "color": {"field": "dir", "type": "nominal"}
        }
       },
       {
        "mark": {"type": "text", "angle": 270, "fontSize": 16, "baseline": "middle", "align": "center"},
        "encoding": {
         "x": {"datum": 0.25},
         "y": {"field": "ty", "type": "quantitative"},
         "text": {"field": "dir"},
         "color": {"field": "dir", "type": "nominal"}
        }
       }
      ]
     },
     {
      "width": 219, "height": 318,
      "layer": [
       {
        "data": {"values": [{}]},
        "mark": {"type": "rule", "color": "#555555", "strokeWidth": 1.5, "strokeDash": [5, 4]},
        "encoding": {"y": {"datum": 0}}
       },
       {
        "data": {"name": "cpts"},
        "mark": {"type": "circle", "size": 72, "stroke": "#555555", "strokeWidth": 1, "opacity": 1, "xOffset": {"expr": "datum.j * 15"}},
        "encoding": {
         "x": {"field": "grp", "type": "nominal", "scale": {"type": "point", "domain": ["Dampening", "Magnifying"], "padding": 0.553}, "axis": {"title": "Drug interaction", "labelAngle": 0, "titlePadding": 2, "labelColor": {"condition": {"test": "datum.value == 'Dampening'", "value": "#5b8ed4"}, "value": "#a5403d"}}},
         "y": {"field": "z", "type": "quantitative", "scale": {"domain": [-4.42, 3.43], "nice": false, "zero": false}, "axis": {"values": [-4, -2, 0, 2], "title": "Free IL-6 protein interaction (z-score)", "titlePadding": 4}},
         "fill": {"field": "f", "type": "nominal", "scale": {"domain": ["filled", "open"], "range": ["#b5b5b5", "#ffffff"]}, "legend": null}
        }
       },
       {
        "data": {"name": "cstat"},
        "mark": {"type": "rule", "color": "#666666", "strokeWidth": 2},
        "encoding": {"x": {"field": "grp", "type": "nominal"}, "y": {"field": "q1", "type": "quantitative"}, "y2": {"field": "q3"}}
       },
       {
        "data": {"name": "cstat"},
        "mark": {"type": "tick", "color": "#666666", "thickness": 2, "size": 56, "opacity": 1},
        "encoding": {"x": {"field": "grp", "type": "nominal"}, "y": {"field": "q1", "type": "quantitative"}}
       },
       {
        "data": {"name": "cstat"},
        "mark": {"type": "tick", "color": "#666666", "thickness": 2, "size": 56, "opacity": 1},
        "encoding": {"x": {"field": "grp", "type": "nominal"}, "y": {"field": "q3", "type": "quantitative"}}
       },
       {
        "data": {"name": "cstat"},
        "mark": {"type": "tick", "color": "#666666", "thickness": 2, "size": 72, "opacity": 1},
        "encoding": {"x": {"field": "grp", "type": "nominal"}, "y": {"field": "med", "type": "quantitative"}}
       }
      ]
     }
    ],
    "spacing": 12,
    "title": {"text": "C", "dx": -3, "dy": 7},
    "resolve": {"scale": {"x": "independent", "y": "independent", "color": "independent"}}
   }
  ],
  "spacing": 63,
  "resolve": {"scale": {"x": "independent", "y": "independent", "color": "independent"}}
 }
]
}
